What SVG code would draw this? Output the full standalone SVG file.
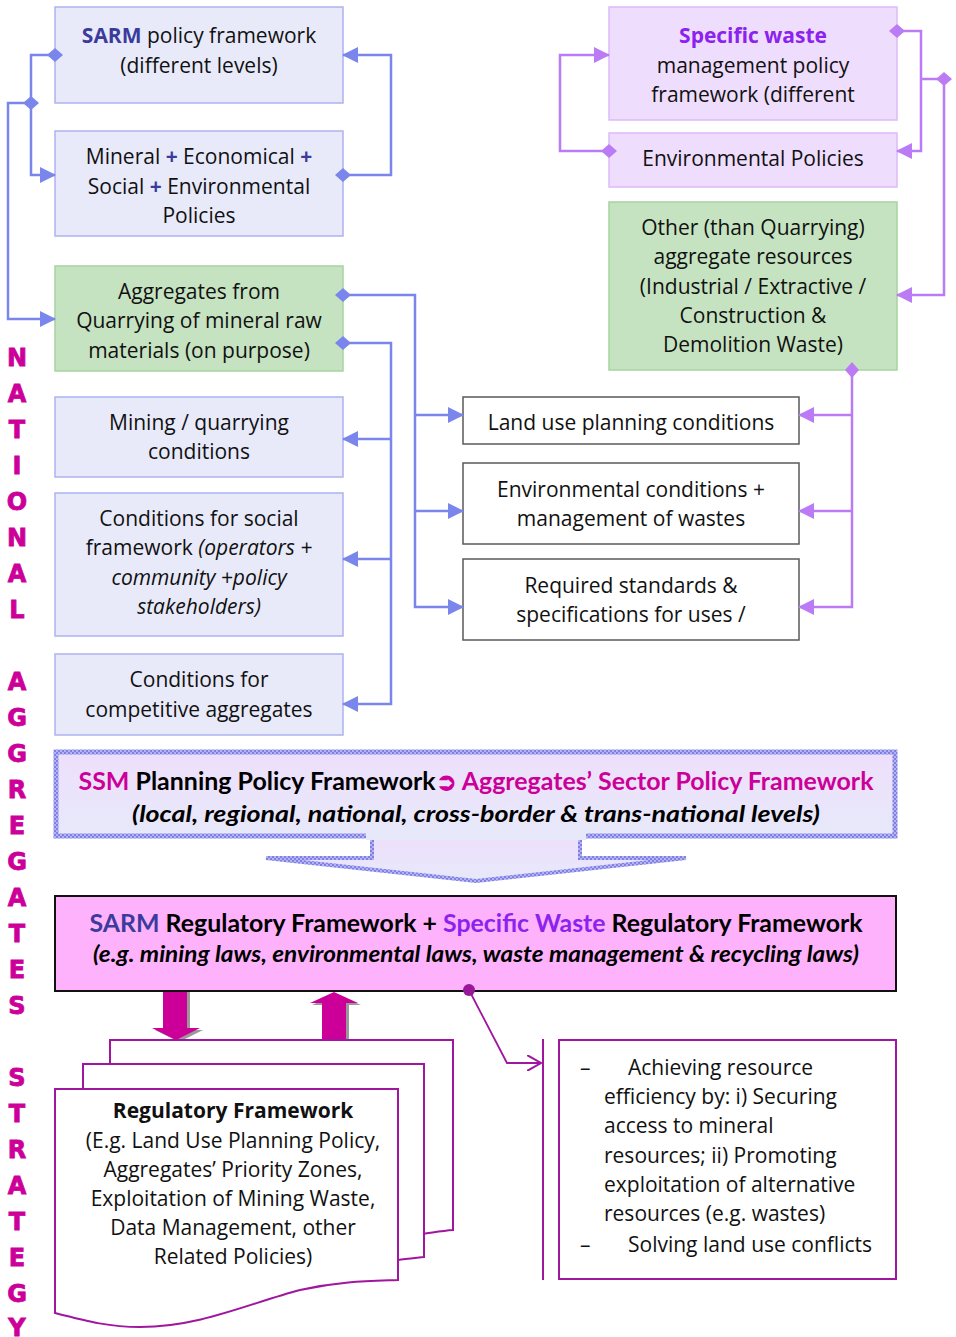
<svg xmlns="http://www.w3.org/2000/svg" width="956" height="1337" viewBox="0 0 956 1337">
<style>
.t{font-family:"Open Sans","DejaVu Sans",sans-serif;font-size:21px;fill:#111;text-anchor:middle}
.tl{font-family:"Open Sans","DejaVu Sans",sans-serif;font-size:21px;fill:#111}
.hb{font-family:Lato,"Open Sans",sans-serif;font-weight:bold;font-size:24px;fill:#000;text-anchor:middle}
.hi{font-family:Lato,"Open Sans",sans-serif;font-weight:bold;font-style:italic;font-size:22px;fill:#000;text-anchor:middle}
.vl{font-family:"DejaVu Sans",sans-serif;font-weight:bold;font-size:24px;fill:#CC0099;stroke:#CC0099;stroke-width:0.8;text-anchor:middle}
.bluebox{fill:#E8EAFA;stroke:#AEB3F1;stroke-width:1.5}
.greenbox{fill:#C6E3C1;stroke:#A7D49F;stroke-width:1.5}
.purbox{fill:#EFDDFD;stroke:#DCBAF9;stroke-width:1.5}
.whitebox{fill:#fff;stroke:#5a5a5a;stroke-width:1.5}
.bc{fill:none;stroke:#7A86EC;stroke-width:2.5}
.pc{fill:none;stroke:#BB7BF5;stroke-width:2.5}
.doc{fill:#fff;stroke:#A0169F;stroke-width:2}
.sarm{fill:#3B3B9C;font-weight:bold}
.sw{fill:#8B22EE}
.mg{fill:#CC0099}
</style>
<defs>
<marker id="ab" markerUnits="userSpaceOnUse" markerWidth="16" markerHeight="16" refX="15" refY="8" orient="auto"><path d="M0,0 L16,8 L0,16 z" fill="#7A86EC"/></marker>
<marker id="db" markerUnits="userSpaceOnUse" markerWidth="16" markerHeight="14" refX="8" refY="7" orient="auto"><path d="M0,7 L8,0 L16,7 L8,14 z" fill="#7A86EC"/></marker>
<marker id="ap" markerUnits="userSpaceOnUse" markerWidth="16" markerHeight="16" refX="15" refY="8" orient="auto"><path d="M0,0 L16,8 L0,16 z" fill="#BB7BF5"/></marker>
<marker id="dp" markerUnits="userSpaceOnUse" markerWidth="16" markerHeight="14" refX="8" refY="7" orient="auto"><path d="M0,7 L8,0 L16,7 L8,14 z" fill="#BB7BF5"/></marker>
<marker id="av" markerUnits="userSpaceOnUse" markerWidth="16" markerHeight="16" refX="14" refY="8" orient="auto"><path d="M0,0 L14,8 L0,16" fill="none" stroke="#A0169F" stroke-width="2"/></marker>
<pattern id="chk" width="4" height="4" patternUnits="userSpaceOnUse"><rect width="4" height="4" fill="#B4B4F4"/><rect width="2" height="2" fill="#8080E4"/><rect x="2" y="2" width="2" height="2" fill="#8080E4"/></pattern>
<linearGradient id="ssmg" x1="0" y1="0" x2="0" y2="1"><stop offset="0" stop-color="#EEDFFC"/><stop offset="1" stop-color="#E7E9FA"/></linearGradient>
</defs>

<g id="vertical-label">
<text class="vl" x="17" y="366">N</text>
<text class="vl" x="17" y="402">A</text>
<text class="vl" x="17" y="438">T</text>
<text class="vl" x="17" y="474">I</text>
<text class="vl" x="17" y="510">O</text>
<text class="vl" x="17" y="546">N</text>
<text class="vl" x="17" y="582">A</text>
<text class="vl" x="17" y="618">L</text>
<text class="vl" x="17" y="690">A</text>
<text class="vl" x="17" y="726">G</text>
<text class="vl" x="17" y="762">G</text>
<text class="vl" x="17" y="798">R</text>
<text class="vl" x="17" y="834">E</text>
<text class="vl" x="17" y="870">G</text>
<text class="vl" x="17" y="906">A</text>
<text class="vl" x="17" y="942">T</text>
<text class="vl" x="17" y="978">E</text>
<text class="vl" x="17" y="1014">S</text>
<text class="vl" x="17" y="1086">S</text>
<text class="vl" x="17" y="1122">T</text>
<text class="vl" x="17" y="1158">R</text>
<text class="vl" x="17" y="1194">A</text>
<text class="vl" x="17" y="1230">T</text>
<text class="vl" x="17" y="1266">E</text>
<text class="vl" x="17" y="1302">G</text>
<text class="vl" x="17" y="1336">Y</text>
</g>

<g id="sarm-policy">
<rect class="bluebox" x="55" y="7" width="288" height="96"/>
<text class="t" x="199" y="43"><tspan class="sarm">SARM</tspan> policy framework</text>
<text class="t" x="199" y="73">(different levels)</text>
</g>
<g id="mineral-policies">
<rect class="bluebox" x="55" y="131" width="288" height="105"/>
<text class="t" x="199" y="164">Mineral <tspan class="sarm">+</tspan> Economical <tspan class="sarm">+</tspan></text>
<text class="t" x="199" y="194">Social <tspan class="sarm">+</tspan> Environmental</text>
<text class="t" x="199" y="223">Policies</text>
</g>
<g id="aggregates-quarrying">
<rect class="greenbox" x="55" y="266" width="288" height="105"/>
<text class="t" x="199" y="299">Aggregates from</text>
<text class="t" x="199" y="328">Quarrying of mineral raw</text>
<text class="t" x="199" y="358">materials (on purpose)</text>
</g>
<g id="mining-conditions">
<rect class="bluebox" x="55" y="397" width="288" height="80"/>
<text class="t" x="199" y="430">Mining / quarrying</text>
<text class="t" x="199" y="459">conditions</text>
</g>
<g id="social-conditions">
<rect class="bluebox" x="55" y="493" width="288" height="143"/>
<text class="t" x="199" y="526">Conditions for social</text>
<text class="t" x="199" y="555">framework <tspan font-style="italic">(operators +</tspan></text>
<text class="t" x="199" y="585" font-style="italic">community +policy</text>
<text class="t" x="199" y="614" font-style="italic">stakeholders)</text>
</g>
<g id="competitive-conditions">
<rect class="bluebox" x="55" y="654" width="288" height="81"/>
<text class="t" x="199" y="687">Conditions for</text>
<text class="t" x="199" y="717">competitive aggregates</text>
</g>

<g id="specific-waste-policy">
<rect class="purbox" x="609" y="7" width="288" height="113"/>
<text class="t" x="753" y="43" font-weight="bold"><tspan class="sw">Specific waste</tspan></text>
<text class="t" x="753" y="73">management policy</text>
<text class="t" x="753" y="102">framework (different</text>
</g>
<g id="environmental-policies">
<rect class="purbox" x="609" y="133" width="288" height="54"/>
<text class="t" x="753" y="166">Environmental Policies</text>
</g>
<g id="other-aggregates">
<rect class="greenbox" x="609" y="202" width="288" height="168"/>
<text class="t" x="753" y="235">Other (than Quarrying)</text>
<text class="t" x="753" y="264">aggregate resources</text>
<text class="t" x="753" y="294">(Industrial / Extractive /</text>
<text class="t" x="753" y="323">Construction &amp;</text>
<text class="t" x="753" y="352">Demolition Waste)</text>
</g>

<g id="land-use">
<rect class="whitebox" x="463" y="397" width="336" height="47"/>
<text class="t" x="631" y="430">Land use planning conditions</text>
</g>
<g id="environmental-conditions">
<rect class="whitebox" x="463" y="463" width="336" height="81"/>
<text class="t" x="631" y="497">Environmental conditions +</text>
<text class="t" x="631" y="526">management of wastes</text>
</g>
<g id="required-standards">
<rect class="whitebox" x="463" y="559" width="336" height="81"/>
<text class="t" x="631" y="593">Required standards &amp;</text>
<text class="t" x="631" y="622">specifications for uses /</text>
</g>

<g id="ssm-framework">
<polygon points="372,836 372,858 266,858 476,881 686,858 580,858 580,836" fill="url(#ssmg)" stroke="url(#chk)" stroke-width="4"/>
<rect x="56" y="752" width="839" height="84" fill="url(#ssmg)" stroke="url(#chk)" stroke-width="5"/>
<rect x="366" y="830" width="220" height="10" fill="#E7E9FA"/>
<text class="hb" x="476" y="790" textLength="795" lengthAdjust="spacingAndGlyphs"><tspan class="mg">SSM</tspan> Planning Policy Framework<tspan class="mg">➲ Aggregates’ Sector Policy Framework</tspan></text>
<text class="hi" x="476" y="822" textLength="688" lengthAdjust="spacingAndGlyphs">(local, regional, national, cross-border &amp; trans-national levels)</text>
</g>

<g id="regulatory-framework-main">
<rect x="55" y="896" width="841" height="95" fill="#FDB2FB" stroke="#111" stroke-width="2"/>
<text class="hb" x="476" y="932" textLength="773" lengthAdjust="spacingAndGlyphs"><tspan style="fill:#3B3B9C">SARM</tspan> Regulatory Framework + <tspan class="sw">Specific Waste</tspan> Regulatory Framework</text>
<text class="hi" x="476" y="962" font-size="20" textLength="766" lengthAdjust="spacingAndGlyphs">(e.g. mining laws, environmental laws, waste management &amp; recycling laws)</text>
</g>

<g id="block-arrows">
<polygon points="166,992 190,992 190,1030 203,1030 179,1042 155,1030 166,1030" fill="#999"/>
<polygon points="163,992 187,992 187,1028 200,1028 176,1040 152,1028 163,1028" fill="#CC0099"/>
<polygon points="325,1040 349,1040 349,1005 361,1005 336,994 312,1005 325,1005" fill="#999"/>
<polygon points="322,1040 346,1040 346,1003 358,1003 334,992 310,1003 322,1003" fill="#CC0099"/>
</g>

<g id="regulatory-documents">
<path class="doc" d="M110,1040 H453 V1230 C440,1231 430,1233 420,1234 H110 z"/>
<path class="doc" d="M83,1064 H424 V1257 C415,1258 405,1259 398,1260 H83 z"/>
<path class="doc" d="M55,1089 H398 V1280 C370,1281 340,1281 300,1290 C250,1303 200,1327 140,1327 C110,1327 90,1322 55,1313 z"/>
<text class="t" x="233" y="1118" font-weight="bold">Regulatory Framework</text>
<text class="t" x="233" y="1148">(E.g. Land Use Planning Policy,</text>
<text class="t" x="233" y="1177">Aggregates’ Priority Zones,</text>
<text class="t" x="233" y="1206">Exploitation of Mining Waste,</text>
<text class="t" x="233" y="1235">Data Management, other</text>
<text class="t" x="233" y="1264">Related Policies)</text>
</g>

<g id="strategy-goals">
<line x1="543" y1="1039" x2="543" y2="1280" stroke="#A0169F" stroke-width="2"/>
<rect x="559" y="1040" width="337" height="239" fill="#fff" stroke="#A0169F" stroke-width="2"/>
<text class="tl" x="580" y="1075">–</text>
<text class="tl" x="628" y="1075">Achieving resource</text>
<text class="tl" x="604" y="1104">efficiency by: i) Securing</text>
<text class="tl" x="604" y="1133">access to mineral</text>
<text class="tl" x="604" y="1163">resources; ii) Promoting</text>
<text class="tl" x="604" y="1192">exploitation of alternative</text>
<text class="tl" x="604" y="1221">resources (e.g. wastes)</text>
<text class="tl" x="580" y="1252">–</text>
<text class="tl" x="628" y="1252">Solving land use conflicts</text>
</g>

<g id="connectors">
<path class="bc" d="M55,55 H31 V175 H55" marker-start="url(#db)" marker-end="url(#ab)"/>
<path class="bc" d="M31,103 H8 V319 H55" marker-end="url(#ab)"/>
<path d="M23,103 L31,96 L39,103 L31,110 z" fill="#7A86EC"/>
<path class="bc" d="M343,175 H391 V55 H343" marker-start="url(#db)" marker-end="url(#ab)"/>
<path class="bc" d="M343,295 H415 V607 H463" marker-start="url(#db)" marker-end="url(#ab)"/>
<path class="bc" d="M415,415 H463" marker-end="url(#ab)"/>
<path class="bc" d="M415,511 H463" marker-end="url(#ab)"/>
<path class="bc" d="M343,343 H391 V704 H343" marker-start="url(#db)" marker-end="url(#ab)"/>
<path class="bc" d="M391,439 H343" marker-end="url(#ab)"/>
<path class="bc" d="M391,559 H343" marker-end="url(#ab)"/>

<path class="pc" d="M609,151 H560 V55 H609" marker-start="url(#dp)" marker-end="url(#ap)"/>
<path class="pc" d="M897,31 H921 V151 H897" marker-start="url(#dp)" marker-end="url(#ap)"/>
<path class="pc" d="M921,79 H944 V295 H897" marker-end="url(#ap)"/>
<path d="M936,79 L944,72 L952,79 L944,86 z" fill="#BB7BF5"/>
<path class="pc" d="M852,370 V607 H799" marker-start="url(#dp)" marker-end="url(#ap)"/>
<path class="pc" d="M852,415 H799" marker-end="url(#ap)"/>
<path class="pc" d="M852,511 H799" marker-end="url(#ap)"/>

<path d="M469,990 L507,1063 H541" fill="none" stroke="#A0169F" stroke-width="1.8" marker-end="url(#av)"/>
<circle cx="469" cy="990" r="6" fill="#99189A"/>
</g>
</svg>
